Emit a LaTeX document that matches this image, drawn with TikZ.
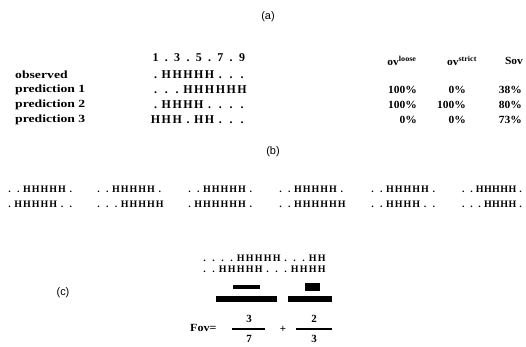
\documentclass[tikz,border=0pt]{standalone}
\usepackage{fontspec}
\setmainfont{Liberation Serif}
\newfontfamily\labfont{Liberation Sans}
\newcommand\widetxt[2][1.25]{\scalebox{#1}[1]{#2}}
\makeatletter
\newcommand\seqgrid[2]{\def\seqw{#1}\@tfor\seqch:=#2\do{\makebox[\seqw][c]{\seqch}}}
\makeatother
\begin{document}
\begin{tikzpicture}[x=1bp,y=-1bp,
  txt/.style={inner sep=0pt,font=\fontsize{11}{12}\selectfont\bfseries},
  seqa/.style={inner sep=0pt,anchor=west,font=\fontsize{12}{13}\selectfont\bfseries},
  seqb/.style={inner sep=0pt,anchor=west,font=\fontsize{10}{11}\selectfont\bfseries},
  lft/.style={txt,anchor=west},
  rgt/.style={txt,anchor=east},
  lab/.style={inner sep=0pt,font=\fontsize{11}{12}\selectfont\labfont},
  bar/.style={fill=black},
  fbar/.style={line width=1.5bp}]
\useasboundingbox (0,0) rectangle (526,346);
% (a)
\node[lab] (la) at (268,17) {(a)};
\node[seqa] (dig) at (150,58) {\seqgrid{10.8bp}{1.3.5.7.9}};
\node[txt] (h1) at (402,61) {\widetxt[1.05]{ov$^{\mathbf{loose}}$}};
\node[txt] (h2) at (462,61) {\widetxt[1.05]{ov$^{\mathbf{strict}}$}};
\node[txt] (h3) at (514,61) {\widetxt[1.05]{Sov}};
\node[lft] (r0) at (15,75) {\widetxt{observed}};
\node[seqa] (s0) at (150,75) {\seqgrid{10.8bp}{.HHHHH...}};
\node[lft] (r1) at (15,90) {\widetxt{prediction 1}};
\node[seqa] (s1) at (150,90) {\seqgrid{10.8bp}{...HHHHHH}};
\node[rgt] (a1) at (417,90) {\widetxt[1.05]{100\%}};
\node[rgt] (b1) at (466,90) {\widetxt[1.05]{0\%}};
\node[rgt] (c1) at (522,90) {\widetxt[1.05]{38\%}};
\node[lft] (r2) at (15,105) {\widetxt{prediction 2}};
\node[seqa] (s2) at (150,105) {\seqgrid{10.8bp}{.HHHH....}};
\node[rgt] (a2) at (417,105) {\widetxt[1.05]{100\%}};
\node[rgt] (b2) at (466,105) {\widetxt[1.05]{100\%}};
\node[rgt] (c2) at (522,105) {\widetxt[1.05]{80\%}};
\node[lft] (r3) at (15,120) {\widetxt{prediction 3}};
\node[seqa] (s3) at (150,120) {\seqgrid{10.8bp}{HHH.HH...}};
\node[rgt] (a3) at (417,120) {\widetxt[1.05]{0\%}};
\node[rgt] (b3) at (466,120) {\widetxt[1.05]{0\%}};
\node[rgt] (c3) at (522,120) {\widetxt[1.05]{73\%}};
% (b)
\node[lab] (lb) at (273,152) {(b)};
\node[seqb] (p1a) at (5,189) {\seqgrid{8.75bp}{..HHHHH.}};
\node[seqb] (p1b) at (5,204) {\seqgrid{8.75bp}{.HHHHH..}};
\node[seqb] (p2a) at (94,189) {\seqgrid{8.75bp}{..HHHHH.}};
\node[seqb] (p2b) at (94,204) {\seqgrid{8.75bp}{...HHHHH}};
\node[seqb] (p3a) at (185,189) {\seqgrid{8.75bp}{..HHHHH.}};
\node[seqb] (p3b) at (185,204) {\seqgrid{8.75bp}{.HHHHHH.}};
\node[seqb] (p4a) at (276,189) {\seqgrid{8.75bp}{..HHHHH.}};
\node[seqb] (p4b) at (276,204) {\seqgrid{8.75bp}{..HHHHHH}};
\node[seqb] (p5a) at (368,189) {\seqgrid{8.75bp}{..HHHHH.}};
\node[seqb] (p5b) at (368,204) {\seqgrid{8.75bp}{..HHHH..}};
\node[seqb] (p6a) at (459,189) {\seqgrid{8.2bp}{..HHHHH.}};
\node[seqb] (p6b) at (459,204) {\seqgrid{8.2bp}{...HHHH.}};
% (c)
\node[lab] (lc) at (63,293) {(c)};
\node[seqb] (q1) at (200,258) {\seqgrid{9bp}{....HHHHH...HH}};
\node[seqb] (q2) at (200,269) {\seqgrid{9bp}{..HHHHH...HHHH}};
\fill[bar] (233,284.5) rectangle (260,289);
\fill[bar] (305,283) rectangle (320,291);
\fill[bar] (216,296) rectangle (277,302);
\fill[bar] (288,296) rectangle (332,302);
\node[lft] (fov) at (190,328) {\widetxt[1.1]{Fov=}};
\node[txt] (n1) at (249,319) {3};
\node[txt] (d1) at (249,339) {7};
\draw[fbar] (232,329) -- (265,329);
\node[txt] (pl) at (283,329) {+};
\node[txt] (n2) at (314,319) {2};
\node[txt] (d2) at (314,339) {3};
\draw[fbar] (296,329) -- (332,329);
\end{tikzpicture}
\end{document}
